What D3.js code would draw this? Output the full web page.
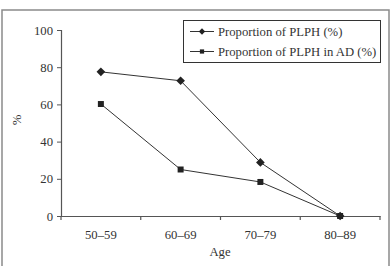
<!DOCTYPE html>
<html><head><meta charset="utf-8">
<script src="https://cdn.jsdelivr.net/npm/d3@7"></script>
<style>body{margin:0;background:#fff}svg{display:block}text{font-family:"Liberation Serif","DejaVu Serif",serif;fill:#333}</style>
</head><body><svg id="c" width="391" height="266"></svg>
<script>
const categories = ["50–59","60–69","70–79","80–89"];
const seriesPLPH = [77.5, 72.7, 28.8, 0];
const seriesPLPHinAD = [60.2, 25, 18.3, 0];
const seriesNames = ["Proportion of PLPH (%)", "Proportion of PLPH in AD (%)"];
const yTicks = [0, 20, 40, 60, 80, 100];

const FS = 12.7;
const svg = d3.select("#c");
const stroke = "#333";
svg.append("rect").attr("x",2).attr("y",10).attr("width",387).attr("height",270)
  .attr("fill","none").attr("stroke","#8a8a8a").attr("stroke-width",1.5);

const x0 = 61, x1 = 380, yTop = 30, yBot = 216;
const x = d3.scaleBand().domain(categories).range([x0, x1]);
const y = d3.scaleLinear().domain([0, 100]).range([yBot, yTop]);

const yAxis = svg.append("g").attr("transform",`translate(${x0},0)`)
  .call(d3.axisLeft(y).tickValues(yTicks).tickSize(4).tickPadding(4));
const xAxis = svg.append("g").attr("transform",`translate(0,${yBot})`)
  .call(d3.axisBottom(x).tickSize(0).tickPadding(14));
[yAxis, xAxis].forEach(g => {
  g.select(".domain").attr("stroke", "#555").attr("stroke-width", 1.2);
  g.selectAll("text").attr("font-size", FS).attr("fill","#333")
    .style("font-family",'"Liberation Serif","DejaVu Serif",serif');
  g.selectAll(".tick line").attr("stroke","#555");
});
const bounds = categories.map(c => x(c)).concat([x1]);
svg.append("g").selectAll("line").data(bounds).join("line")
  .attr("x1", d => d).attr("x2", d => d).attr("y1", yBot).attr("y2", yBot+4)
  .attr("stroke","#555").attr("stroke-width",1.2);

svg.append("text").attr("x", 220).attr("y", 256).attr("text-anchor","middle").attr("font-size",FS).text("Age");
svg.append("text").attr("transform","translate(21,120) rotate(-90)").attr("text-anchor","middle").attr("font-size",FS).text("%");

const cx = c => x(c) + x.bandwidth()/2;
const line = d3.line().x((d,i) => cx(categories[i])).y(d => y(d));
const diamond = d3.symbol().type(d3.symbolDiamond2).size(48);
const square = d3.symbol().type(d3.symbolSquare).size(36);

[[seriesPLPHinAD, square], [seriesPLPH, diamond]].forEach(([vals, sym]) => {
  svg.append("path").datum(vals).attr("d", line).attr("fill","none").attr("stroke",stroke).attr("stroke-width",1);
  svg.append("g").selectAll("path").data(vals).join("path")
    .attr("transform",(d,i) => `translate(${cx(categories[i])},${y(d)})`)
    .attr("d", sym).attr("fill","#222");
});

const lg = svg.append("g");
lg.append("rect").attr("x",183.5).attr("y",20.5).attr("width",197).attr("height",42)
  .attr("fill","#fff").attr("stroke","#333").attr("stroke-width",1);
const legendSyms = [d3.symbol().type(d3.symbolDiamond2).size(26), d3.symbol().type(d3.symbolSquare).size(18)];
seriesNames.forEach((n,i) => {
  const yy = 31.5 + i*20;
  lg.append("line").attr("x1",190).attr("x2",214).attr("y1",yy).attr("y2",yy).attr("stroke",stroke).attr("stroke-width",1);
  lg.append("path").attr("transform",`translate(202,${yy})`).attr("d",legendSyms[i]).attr("fill","#222");
  lg.append("text").attr("x",218).attr("y",yy+4).attr("font-size",FS).text(n);
});
</script></body></html>
